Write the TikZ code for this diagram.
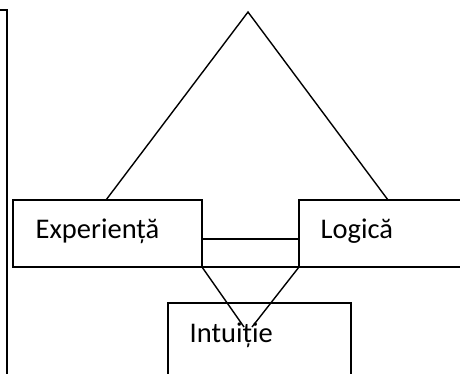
\documentclass[tikz,border=0pt]{standalone}
\usepackage{fontspec}
\setmainfont{Carlito}
\begin{document}
\begin{tikzpicture}[x=1bp,y=-1bp,line width=1.4bp,
  box/.style={draw,rectangle,inner sep=0,outer sep=0,anchor=north west},
  lbl/.style={anchor=base west,inner sep=0,font=\fontsize{28.5bp}{34bp}\selectfont}]
\useasboundingbox (0,0) rectangle (460,373);
% frame edge on the left
\coordinate (fa) at (0,10);
\coordinate (fb) at (7,10);
\coordinate (fc) at (7,380);
\draw (fa) -- (fb) -- (fc);
% boxes
\node[box,minimum width=189bp,minimum height=67bp] (exp) at (13,200) {};
\node[box,minimum width=200bp,minimum height=67bp] (log) at (299,200) {};
\node[box,minimum width=183bp,minimum height=100bp] (int) at (168,303) {};
% labels
\node[lbl] (texp) at (35,238) {Experiență};
\node[lbl] (tlog) at (320,238) {Logică};
\node[lbl] (tint) at (189,342) {Intuiție};
% triangle over the two upper boxes
\coordinate (apex) at (248,12);
\coordinate (tl) at (106,200);
\coordinate (tr) at (388,200);
\draw (tl) -- (apex) -- (tr);
% band between the upper boxes
\coordinate (ml) at (exp.east |- 0,239);
\coordinate (mr) at (log.west |- 0,239);
\draw (ml) -- (mr);
\draw (exp.south east) -- (log.south west);
% converging lines towards the lower box
\coordinate (vl) at (244,327);
\coordinate (vr) at (252,327);
\draw (exp.south east) -- (vl);
\draw (log.south west) -- (vr);
\end{tikzpicture}
\end{document}
